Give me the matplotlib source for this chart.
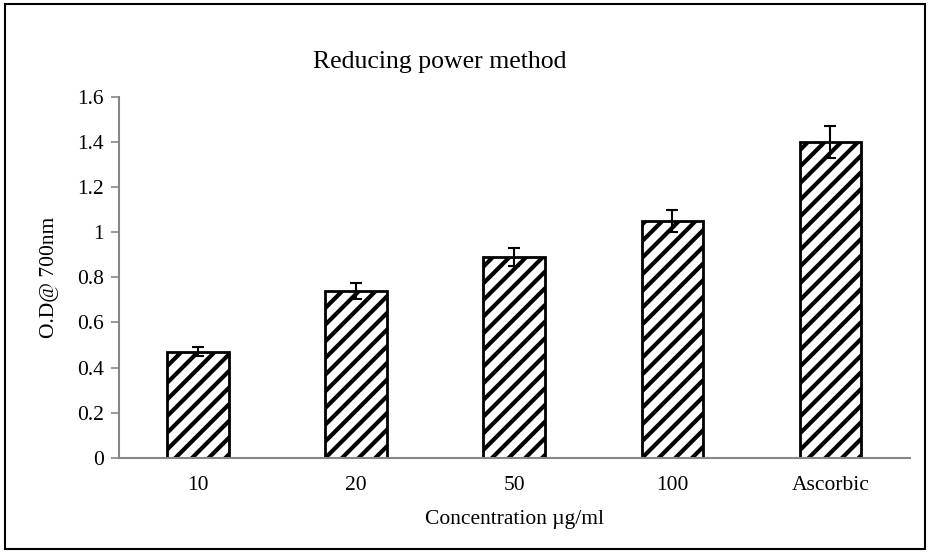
import matplotlib.pyplot as plt
from matplotlib.patches import Rectangle

categories = ['10', '20', '50', '100', 'Ascorbic']
od_values = [0.47, 0.74, 0.89, 1.05, 1.40]
od_errors = [0.02, 0.035, 0.04, 0.05, 0.07]
y_ticks = [0, 0.2, 0.4, 0.6, 0.8, 1, 1.2, 1.4, 1.6]
y_tick_labels = ['0', '0.2', '0.4', '0.6', '0.8', '1', '1.2', '1.4', '1.6']


def main():
  plt.rcParams['font.family'] = ['Liberation Serif', 'DejaVu Serif']
  plt.rcParams['hatch.linewidth'] = 3.0
  plt.rcParams['hatch.color'] = 'black'

  fig = plt.figure(figsize=(9.3, 5.53), dpi=100)
  ax = fig.add_axes([0.128, 0.172, 0.85, 0.653])

  x = range(len(categories))
  ax.bar(x, od_values, width=0.39, color='white', edgecolor='black',
         linewidth=2, hatch='//', zorder=2)
  ax.errorbar(x, od_values, yerr=od_errors, fmt='none', ecolor='black',
              elinewidth=1.5, capsize=4.5, capthick=1.5, zorder=3)

  ax.set_xlim(-0.5, len(categories) - 0.5)
  ax.set_ylim(0, 1.6)
  ax.set_yticks(y_ticks)
  ax.set_yticklabels(y_tick_labels)
  ax.set_xticks(list(x))
  ax.set_xticklabels(categories)

  for side in ['top', 'right']:
    ax.spines[side].set_visible(False)
  for side in ['left', 'bottom']:
    ax.spines[side].set_color('#868686')
    ax.spines[side].set_linewidth(1.5)
  ax.tick_params(axis='y', colors='#868686', labelcolor='black', length=6,
                 width=1.2, labelsize=15.5, pad=5)
  ax.tick_params(axis='x', length=0, labelsize=15.5, pad=13)

  ax.set_xlabel('Concentration µg/ml', fontsize=15.5, labelpad=11)
  ax.set_ylabel('O.D@ 700nm', fontsize=15.5, labelpad=13)
  fig.text(0.473, 0.888, 'Reducing power method', ha='center', va='center',
           fontsize=18.5)

  fig.patches.append(Rectangle((0.005, 0.008), 0.99, 0.984, transform=fig.transFigure,
                               fill=False, edgecolor='black', linewidth=1.5))

  fig.savefig('out.png', dpi=100)


if __name__ == '__main__':
  main()
